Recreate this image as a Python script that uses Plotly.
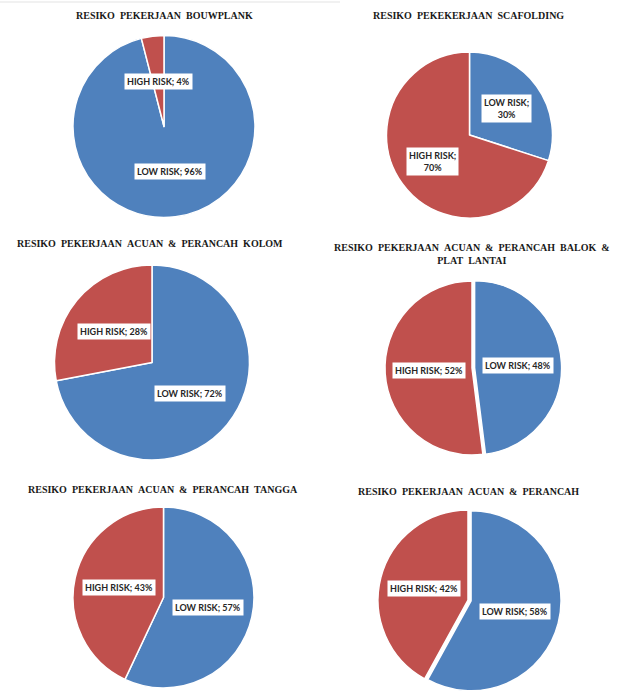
import math
import plotly.graph_objects as go

# ---------------- data ----------------
titles = [
    "RESIKO  PEKERJAAN  BOUWPLANK",
    "RESIKO  PEKEKERJAAN  SCAFOLDING",
    "RESIKO  PEKERJAAN  ACUAN  &  PERANCAH  KOLOM",
    "RESIKO  PEKERJAAN  ACUAN  &  PERANCAH  BALOK  &<br>PLAT  LANTAI",
    "RESIKO  PEKERJAAN  ACUAN  &  PERANCAH  TANGGA",
    "RESIKO  PEKERJAAN  ACUAN  &  PERANCAH",
]
categories = ["LOW RISK", "HIGH RISK"]
low_risk = [96, 30, 72, 48, 57, 58]
high_risk = [4, 70, 28, 52, 43, 42]

# ---------------- layout / style ----------------
W, H = 617, 694
colors = ["#4F81BD", "#C0504D"]
# pie geometry in pixels: centre x, centre y, radius
geom = [(164, 126.5, 91), (469.5, 135, 83), (152, 362.5, 97.5),
        (472, 368, 87), (163.5, 597.5, 90.5), (468, 600, 90)]
pulls = [0, 0, 0, 0.03, 0, 0.035]
title_pos = [(164, 15), (468, 16), (150, 244), (472, 254), (163, 489), (469, 491)]
label_frac = [0.5, 0.55, 0.5, 0.5, 0.5, 0.5]
two_line = [False, True, False, False, False, False]

fig = go.Figure()
annotations = []

def nb(s):
    return s.replace(" ", "\u00a0")

def clamp(v):
    return min(1.0, max(0.0, v))

for i in range(6):
    cx, cy, r = geom[i]
    pull = pulls[i]
    half = r * (1 + pull)
    dom_x = [clamp((cx - half) / W), clamp((cx + half) / W)]
    dom_y = [clamp(1 - (cy + half) / H), clamp(1 - (cy - half) / H)]
    vals = [low_risk[i], high_risk[i]]
    fig.add_trace(go.Pie(
        labels=categories,
        values=vals,
        sort=False,
        direction="clockwise",
        rotation=0,
        pull=[pull, 0],
        marker=dict(colors=colors, line=dict(color="white", width=1.5)),
        textinfo="none",
        hoverinfo="label+percent",
        showlegend=False,
        domain=dict(x=dom_x, y=dom_y),
    ))
    # data labels placed along each slice's mid angle
    total = sum(vals)
    start = 0.0
    for j, v in enumerate(vals):
        ang = (start + v / 2) / total * 2 * math.pi
        start += v
        p = pull if j == 0 else 0
        d = (label_frac[i] + p) * r
        lx = cx + d * math.sin(ang)
        ly = cy - d * math.cos(ang)
        pct = round(v / total * 100)
        if two_line[i]:
            txt = f"{nb(categories[j])};<br>{pct}%"
        else:
            txt = nb(f"{categories[j]}; {pct}%")
        annotations.append(dict(
            x=lx / W, y=1 - ly / H, xref="paper", yref="paper",
            text=txt, showarrow=False, align="center",
            font=dict(family="Lato", size=9, color="#262626", weight="bold"),
            bgcolor="white", borderpad=2,
            xanchor="center", yanchor="middle",
        ))
    tx, ty = title_pos[i]
    annotations.append(dict(
        x=tx / W, y=1 - ty / H, xref="paper", yref="paper",
        text="<b>" + nb(titles[i]).replace("\u00a0<br>", "<br>") + "</b>",
        showarrow=False, align="center",
        font=dict(family="Liberation Serif", size=10, color="#1a1a1a"),
        xanchor="center", yanchor="middle",
    ))

fig.update_layout(
    width=W, height=H,
    margin=dict(l=0, r=0, t=0, b=0),
    paper_bgcolor="white",
    plot_bgcolor="white",
    annotations=annotations,
    shapes=[dict(type="line", xref="paper", yref="paper",
                 x0=0, x1=340 / W, y0=1 - 2 / H, y1=1 - 2 / H,
                 line=dict(color="#e3e3e3", width=1))],
)

fig.write_html("out.html")
